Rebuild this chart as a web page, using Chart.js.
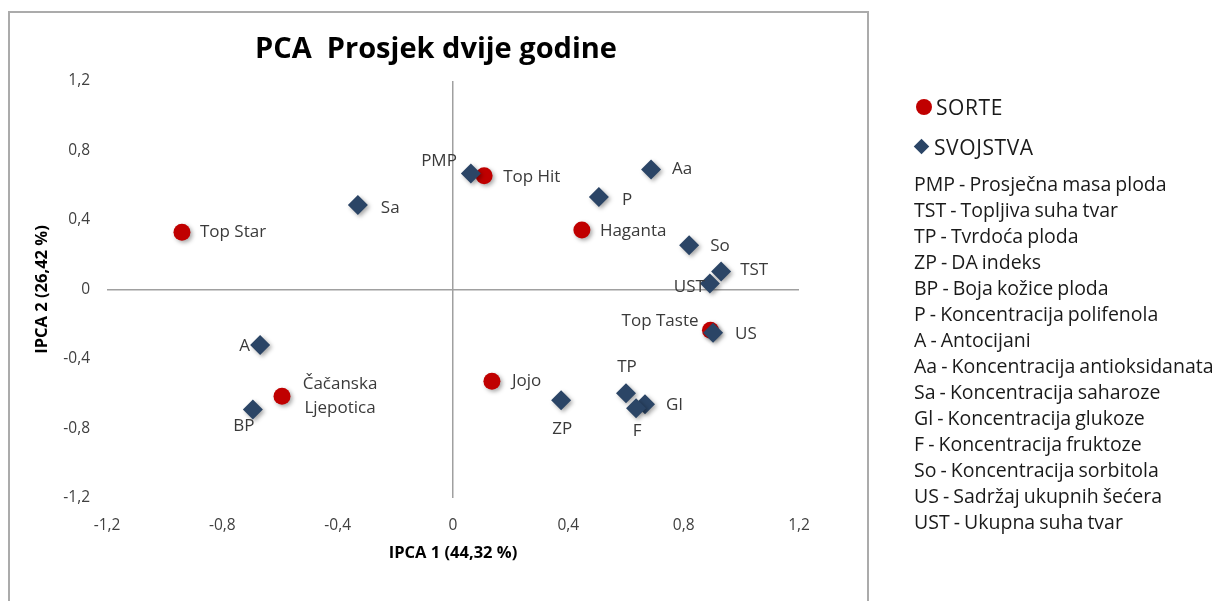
<!DOCTYPE html>
<html><head><meta charset="utf-8">
<script src="https://cdn.jsdelivr.net/npm/chart.js@4.4.1/dist/chart.umd.min.js"></script>
<style>
html,body{margin:0;padding:0;background:#fff;width:1232px;height:601px;overflow:hidden;}
#wrap{position:relative;width:1232px;height:601px;font-family:"Open Sans",sans-serif;}
canvas{position:absolute;left:0;top:0;}
#frame{position:absolute;left:8px;top:11px;width:861px;height:640px;border:2px solid #ababab;box-sizing:border-box;pointer-events:none;}
#title{position:absolute;left:0;width:872px;top:27px;text-align:center;font-weight:700;font-size:29px;line-height:40px;color:#000;white-space:pre;}
.lg{position:absolute;white-space:nowrap;color:#1a1a1a;}
.big{font-size:21px;line-height:26px;letter-spacing:0.6px;}
.small{font-size:19.5px;line-height:26px;left:914px;word-spacing:-1px;}
.dot{position:absolute;width:16px;height:16px;border-radius:50%;background:#c00000;}
.dia{position:absolute;width:11px;height:11px;background:#2b4566;transform:rotate(45deg);}
</style></head>
<body><div id="wrap">
<canvas id="c" width="1232" height="601"></canvas>
<div id="frame"></div>
<div id="title">PCA  Prosjek dvije godine</div>
<div class="dot" style="left:916px;top:99px"></div>
<div class="lg big" style="left:936px;top:94px">SORTE</div>
<div class="dia" style="left:916px;top:141px"></div>
<div class="lg big" style="left:934px;top:134px">SVOJSTVA</div>
<div id="list"></div>
</div>
<script>
// ---- data ----
const sorteNames = ['Top Star', 'Top Hit', 'Haganta', 'Top Taste', 'Čačanska\nLjepotica', 'Jojo'];
const sorteX = [-0.94, 0.108, 0.447, 0.893, -0.593, 0.135];
const sorteY = [0.33, 0.655, 0.342, -0.235, -0.614, -0.528];

const svojNames = ['PMP', 'Aa', 'P', 'Sa', 'So', 'TST', 'UST', 'US', 'A', 'BP', 'ZP', 'TP', 'Gl', 'F'];
const svojX = [0.062, 0.687, 0.506, -0.33, 0.819, 0.93, 0.891, 0.902, -0.669, -0.694, 0.375, 0.60, 0.666, 0.635];
const svojY = [0.667, 0.69, 0.533, 0.487, 0.255, 0.104, 0.035, -0.249, -0.319, -0.69, -0.638, -0.597, -0.661, -0.684];

const axisMin = -1.2, axisMax = 1.2, axisStep = 0.4;
const xTitle = 'IPCA 1 (44,32 %)';
const yTitle = 'IPCA 2 (26,42 %)';
const legendList = [
  'PMP - Prosječna masa ploda',
  'TST - Topljiva suha tvar',
  'TP - Tvrdoća ploda',
  'ZP - DA indeks',
  'BP - Boja kožice ploda',
  'P - Koncentracija polifenola',
  'A - Antocijani',
  'Aa - Koncentracija antioksidanata',
  'Sa - Koncentracija saharoze',
  'Gl - Koncentracija glukoze',
  'F - Koncentracija fruktoze',
  'So - Koncentracija sorbitola',
  'US - Sadržaj ukupnih šećera',
  'UST - Ukupna suha tvar'
];

// ---- label placement (style: pixel offsets from marker, alignment) ----
const sorteLabelPos = [[18,0,'left'],[19,1,'left'],[18,1,'left'],[-12,-9,'right'],[58,0,'center'],[20,0,'left']];
const svojLabelPos = [[-14,-12,'right'],[21,0,'left'],[23,3,'left'],[23,3,'left'],[21,1,'left'],[19,-1,'left'],
  [-5,4,'right'],[22,1,'left'],[-10,1,'right'],[-9,17,'center'],[1,29,'center'],[1,-26,'center'],[21,1,'left'],[1,23,'center']];

// legend list
const listEl = document.getElementById('list');
legendList.forEach((t, i) => {
  const d = document.createElement('div');
  d.className = 'lg small';
  d.style.top = (171 + i * 26) + 'px';
  d.textContent = t;
  listEl.appendChild(d);
});

const FONT = '"Open Sans", sans-serif';
const fmt = v => { const r = Math.round(v * 10) / 10; return r === 0 ? '0' : r.toFixed(1).replace('.', ','); };

const shadowPlugin = {
  id: 'shadow',
  beforeDatasetsDraw(chart) {
    const ctx = chart.ctx; ctx.save();
    ctx.shadowColor = 'rgba(0,0,0,0.35)'; ctx.shadowBlur = 4; ctx.shadowOffsetX = 2; ctx.shadowOffsetY = 2;
  },
  afterDatasetsDraw(chart) {
    const ctx = chart.ctx; ctx.restore();
    ctx.save();
    ctx.font = '17px ' + FONT; ctx.fillStyle = '#3a3a3a'; ctx.textBaseline = 'middle';
    chart.data.datasets.forEach((ds, di) => {
      const meta = chart.getDatasetMeta(di);
      meta.data.forEach((pt, i) => {
        const pos = ds.labelPos[i];
        const lines = ds.names[i].split('\n');
        ctx.textAlign = pos[2];
        lines.forEach((ln, k) => {
          const off = (k - (lines.length - 1) / 2) * 24;
          ctx.fillText(ln, pt.x + pos[0], pt.y + pos[1] + off);
        });
      });
    });
    ctx.restore();
  }
};

const zeroGrid = c => (c.tick && Math.abs(c.tick.value) < 1e-9) ? '#a0a0a0' : 'rgba(0,0,0,0)';

new Chart(document.getElementById('c'), {
  type: 'scatter',
  data: {
    datasets: [
      {
        label: 'SVOJSTVA',
        names: svojNames, labelPos: svojLabelPos,
        data: svojX.map((x, i) => ({ x, y: svojY[i] })),
        pointStyle: 'rectRot', pointRadius: 10, pointHoverRadius: 10,
        backgroundColor: '#2b4566', borderColor: '#2b4566', borderWidth: 0
      },
      {
        label: 'SORTE',
        names: sorteNames, labelPos: sorteLabelPos,
        data: sorteX.map((x, i) => ({ x, y: sorteY[i] })),
        pointStyle: 'circle', pointRadius: 8.5, pointHoverRadius: 8.5,
        backgroundColor: '#c00000', borderColor: '#c00000', borderWidth: 0
      }
    ]
  },
  options: {
    responsive: false, animation: false,
    layout: { padding: { left: 20, top: 81, right: 433, bottom: 23 } },
    plugins: { legend: { display: false }, title: { display: false }, tooltip: { enabled: false } },
    scales: {
      x: {
        type: 'linear', min: axisMin, max: axisMax,
        afterFit(s) { s.height = 80; },
        ticks: { stepSize: axisStep, callback: fmt, padding: 18, color: '#404040', font: { family: FONT, size: 15.5 }, maxRotation: 0 },
        grid: { color: zeroGrid, lineWidth: 1.5, drawTicks: false },
        border: { display: false },
        title: { display: true, text: xTitle, color: '#000', font: { family: FONT, size: 16.5, weight: 'bold' }, padding: { top: 0, bottom: 15 } }
      },
      y: {
        type: 'linear', min: axisMin, max: axisMax,
        afterFit(s) { s.width = 87; },
        ticks: { stepSize: axisStep, callback: fmt, padding: 17, color: '#404040', font: { family: FONT, size: 15.5 } },
        grid: { color: zeroGrid, lineWidth: 1.5, drawTicks: false },
        border: { display: false },
        title: { display: true, text: yTitle, color: '#000', font: { family: FONT, size: 16.5, weight: 'bold' }, padding: { top: 12, bottom: 0 } }
      }
    }
  },
  plugins: [shadowPlugin]
});
</script>
</body></html>
